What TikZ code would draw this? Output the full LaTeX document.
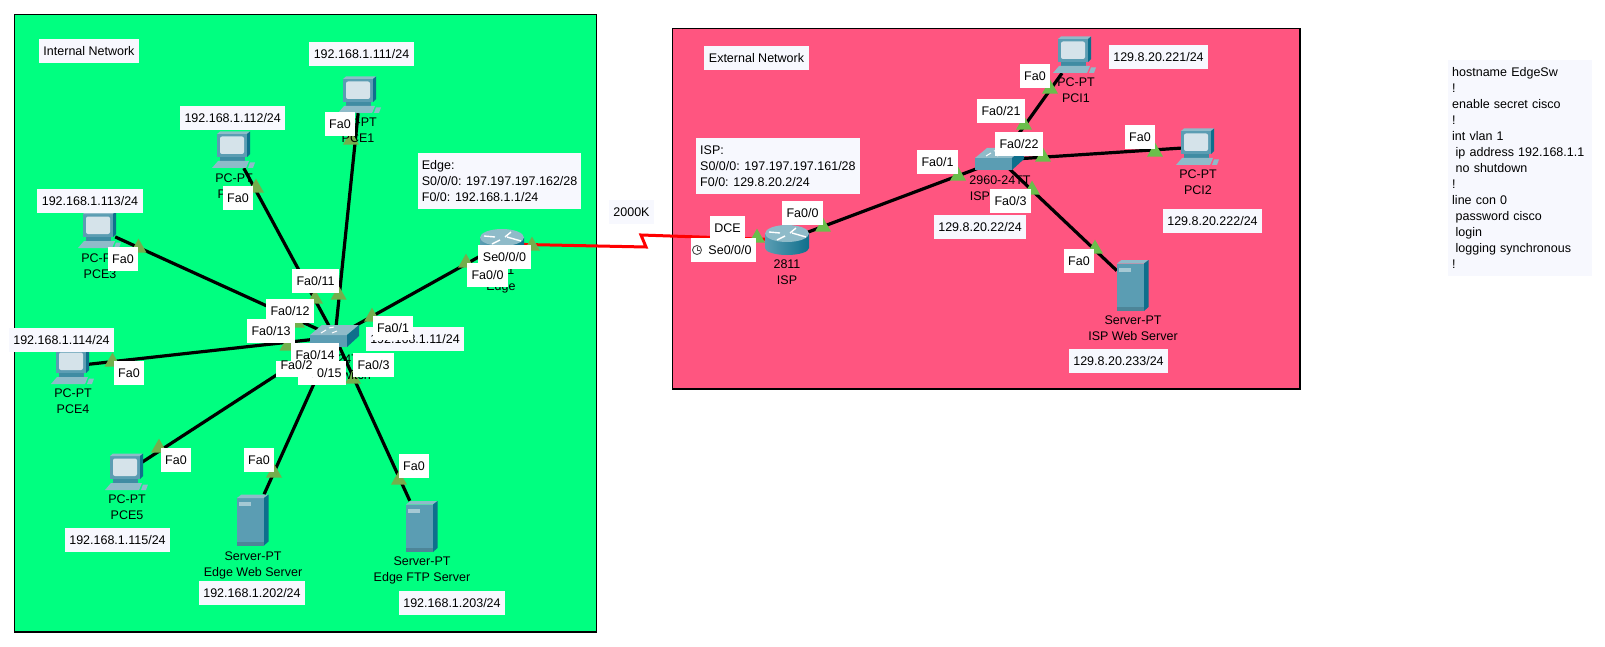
\documentclass[tikz,border=0pt]{standalone}
\usepackage{fontspec}
\setmainfont{Liberation Sans}
\usetikzlibrary{shapes.geometric}
\definecolor{netin}{HTML}{00FF80}
\definecolor{netout}{HTML}{FF5580}
\definecolor{boxfill}{HTML}{F7F8FE}
\definecolor{ledin}{HTML}{74AE4D}
\definecolor{ledout}{HTML}{6ABE4B}
\definecolor{iconfront}{HTML}{5B9DB3}
\definecolor{icontop}{HTML}{8FBBC9}
\definecolor{iconside}{HTML}{0F6F8C}
\definecolor{iconscreen}{HTML}{D5E3EA}
\newcommand{\lnstrut}{\rule[-3.5pt]{0pt}{16pt}}
\tikzset{
    netarea/.style   = {draw=black, line width=1.3pt},
    link/.style      = {draw=black, line width=3.2pt},
    serial/.style    = {draw=red, line width=3pt},
    txtbase/.style   = {font=\fontsize{12.5}{16}\selectfont, inner xsep=4.5pt, inner ysep=4pt},
    iplabel/.style   = {txtbase, fill=boxfill, text height=12.5pt, text depth=3.5pt},
    portlabel/.style = {txtbase, fill=white, text height=12.5pt, text depth=3.5pt},
    infobox/.style   = {txtbase, fill=boxfill, align=left, anchor=north west, inner xsep=4pt},
    devlabel/.style  = {txtbase, align=center, inner ysep=0pt},
    ledbase/.style   = {isosceles triangle, shape border rotate=90, isosceles triangle stretches,
                        minimum width=16pt, minimum height=14pt, inner sep=0pt},
    ledi/.style      = {ledbase, fill=ledin},
    lede/.style      = {ledbase, fill=ledout},
    pcnode/.style    = {inner sep=0pt, minimum width=30pt, minimum height=36pt},
    srvnode/.style   = {inner sep=0pt, minimum width=31pt, minimum height=51pt},
    rtrnode/.style   = {inner sep=0pt, minimum width=40pt, minimum height=24pt},
    swnode/.style    = {inner sep=0pt, minimum width=30pt, minimum height=14pt},
    pics/pcicon/.style = {code={
        \fill[iconfront]  (-17,-16) rectangle (13,7);
        \fill[icontop]    (-17,-16) -- (-14,-18.5) -- (16,-18.5) -- (13,-16) -- cycle;
        \fill[iconside]   (13,-16) -- (16,-18.5) -- (16,4) -- (13,7) -- cycle;
        \fill[iconscreen, rounded corners=2pt] (-14,-13.5) rectangle (10,4);
        \fill[iconside!80!white] (-14,7) rectangle (11,11);
        \fill[icontop]    (-22,18) -- (-16,11) -- (15,11) -- (12,18) -- cycle;
        \fill[icontop]    (14,18) -- (16,12.5) -- (21,12.5) -- (19,18) -- cycle;
    }},
    pics/srvicon/.style = {code={
        \fill[iconfront]  (-15.5,-22) rectangle (11.5,25.5);
        \fill[icontop]    (-15.5,-22) -- (-11,-25.5) -- (16,-25.5) -- (11.5,-22) -- cycle;
        \fill[iconside]   (11.5,-22) -- (16,-25.5) -- (16,21.5) -- (11.5,25.5) -- cycle;
        \fill[icontop!80!white] (-13.5,-18) rectangle (-1.5,-14);
        \fill[iconfront!85!black] (-15.5,21.5) rectangle (11.5,25.5);
    }},
    pics/rtricon/.style = {code={
        \shade[left color=iconfront, middle color=white!85!iconfront, right color=iconside]
            (-22,-6.5) -- (-22,8) arc[start angle=180, end angle=0, x radius=22, y radius=7]
            -- (22,-6.5) -- cycle;
        \fill[icontop] (0,-6.5) ellipse (22 and 8.5);
        \draw[white, line width=1.4pt] (-18,-8) -- (-7,-7);
        \draw[white, line width=1.4pt] (3,-7) -- (9,-12);
        \draw[white, line width=1.4pt] (5,-7) -- (19,-3);
        \draw[white, line width=1.4pt] (-10,0) -- (-2,-4);
    }},
    pics/swicon/.style = {code={
        \fill[iconfront]  (-25,-2) rectangle (12,10);
        \fill[icontop]    (-25,-2) -- (-13,-12) -- (24,-12) -- (12,-2) -- cycle;
        \fill[iconside]   (12,-2) -- (24,-12) -- (24,-1) -- (12,10) -- cycle;
        \draw[white, line width=1pt] (-14,-4) -- (-9,-7);
        \draw[white, line width=1pt] (-6,-9) -- (-1,-10);
        \draw[white, line width=1pt] (-3,-4) -- (2,-6);
    }},
}
\begin{document}
\begin{tikzpicture}[x=1pt, y=-1pt]
    \useasboundingbox (0,0) rectangle (1605,647);
    \fill[white] (0,0) rectangle (1605,647);
    \filldraw[netarea, fill=netin]  (14.5,14.5) rectangle (596.5,632);
    \filldraw[netarea, fill=netout] (672.5,28.5) rectangle (1300,389);

    \node[swnode]  (edgesw)  at (335,337)     {};
    \node[pcnode]  (pce1)    at (360,95)      {};
    \node[pcnode]  (pce2)    at (234,150)     {};
    \node[pcnode]  (pce3)    at (100,230)     {};
    \node[pcnode]  (pce4)    at (73,366)      {};
    \node[pcnode]  (pce5)    at (127,472)     {};
    \node[srvnode] (edgeweb) at (252.5,520)   {};
    \node[srvnode] (edgeftp) at (421.5,526.5) {};
    \node[rtrnode] (edgert)  at (502,244)     {};
    \node[rtrnode] (isprt)   at (787,240)     {};
    \node[swnode]  (ispsw)   at (1000,160)    {};
    \node[pcnode]  (pci1)    at (1075,55)     {};
    \node[pcnode]  (pci2)    at (1198,147)    {};
    \node[srvnode] (ispweb)  at (1132.5,285.5) {};
    \coordinate (zigb) at (646,247);
    \coordinate (zigt) at (641,235);

    \draw[link]   (edgesw) -- (pce1);
    \draw[link]   (edgesw) -- (pce2);
    \draw[link]   (edgesw) -- (pce3);
    \draw[link]   (edgesw) -- (pce4);
    \draw[link]   (edgesw) -- (pce5);
    \draw[link]   (edgesw) -- (edgeweb);
    \draw[link]   (edgesw) -- (edgeftp);
    \draw[link]   (edgesw) -- (edgert);
    \draw[link]   (isprt)  -- (ispsw);
    \draw[link]   (ispsw)  -- (pci1);
    \draw[link]   (ispsw)  -- (pci2);
    \draw[link]   (ispsw)  -- (ispweb);
    \draw[serial] (edgert) -- (zigb) -- (zigt) -- (isprt);

    \node[ledi] (ledpce1) at (351,140)   {};
    \node[ledi] (ledpce2) at (256,188)   {};
    \node[ledi] (ledpce3) at (138.5,248) {};
    \node[ledi] (ledpce4) at (112.5,362) {};
    \node[ledi] (ledpce5) at (159,448)   {};
    \node[ledi] (ledweb)  at (274,473)   {};
    \node[ledi] (ledftp)  at (399,480)   {};
    \node[ledi] (ledsw11) at (315,299)   {};
    \node[ledi] (ledswa)  at (338.6,295) {};
    \node[ledi] (ledsw12) at (297,323)   {};
    \node[ledi] (ledsw13) at (287.5,346) {};
    \node[ledi] (ledsw1)  at (372,317)   {};
    \node[ledi] (ledsw3)  at (353,379)   {};
    \node[ledi] (ledrtf)  at (466,263)   {};
    \node[ledi] (ledrts)  at (532,246)   {};
    \node[lede] (ledpci1) at (1050,89)   {};
    \node[lede] (ledpci2) at (1155,152)  {};
    \node[lede] (ledsrv)  at (1095,249)  {};
    \node[lede] (ledsw21) at (1024,125)  {};
    \node[lede] (ledsw22) at (1043,157)  {};
    \node[lede] (ledswi1) at (958,176)   {};
    \node[lede] (ledswi3) at (1032,190)  {};
    \node[lede] (ledisf)  at (823,227)   {};
    \node[lede] (ledise)  at (757,238)   {};

    \pic at (pce1)    {pcicon};
    \pic at (pce2)    {pcicon};
    \pic at (pce3)    {pcicon};
    \pic at (pce4)    {pcicon};
    \pic at (pce5)    {pcicon};
    \pic at (pci1)    {pcicon};
    \pic at (pci2)    {pcicon};
    \pic at (edgeweb) {srvicon};
    \pic at (edgeftp) {srvicon};
    \pic at (ispweb)  {srvicon};
    \pic at (edgert)  {rtricon};
    \pic at (isprt)   {rtricon};
    \pic at (edgesw)  {swicon};
    \pic at (ispsw)   {swicon};

    \node[devlabel] (namepce1) at (358,130.5)  {\lnstrut PC-PT\\\lnstrut PCE1};
    \node[devlabel] (namepce2) at (234,185.5)  {\lnstrut PC-PT\\\lnstrut PCE2};
    \node[devlabel] (namepce3) at (100,266)    {\lnstrut PC-PT\\\lnstrut PCE3};
    \node[devlabel] (namepce4) at (73,401)     {\lnstrut PC-PT\\\lnstrut PCE4};
    \node[devlabel] (namepce5) at (127,507)    {\lnstrut PC-PT\\\lnstrut PCE5};
    \node[devlabel] (nameweb)  at (253,563.5)  {\lnstrut Server-PT\\\lnstrut Edge Web Server};
    \node[devlabel] (nameftp)  at (422,569)    {\lnstrut Server-PT\\\lnstrut Edge FTP Server};
    \node[devlabel] (namesw)   at (336,366.5)  {\lnstrut 2960-24TT\\\lnstrut Edge Switch};
    \node[devlabel] (namert)   at (501,278)    {\lnstrut 2811\\\lnstrut Edge};
    \node[devlabel] (nameisp)  at (787,272)    {\lnstrut 2811\\\lnstrut ISP};
    \node[devlabel] (nameiss)  at (1000,188)   {\lnstrut 2960-24TT\\\lnstrut ISP Switch};
    \node[devlabel] (namepci1) at (1076,90)    {\lnstrut PC-PT\\\lnstrut PCI1};
    \node[devlabel] (namepci2) at (1198,182)   {\lnstrut PC-PT\\\lnstrut PCI2};
    \node[devlabel] (namesrv)  at (1133,328)   {\lnstrut Server-PT\\\lnstrut ISP Web Server};

    \node[iplabel] (lblint)  at (89,51)      {Internal Network};
    \node[iplabel] (lblext)  at (756.5,58)   {External Network};
    \node[iplabel] (ippce1)  at (361.5,54)   {192.168.1.111/24};
    \node[iplabel] (ippce2)  at (232.7,118)  {192.168.1.112/24};
    \node[iplabel] (ippce3)  at (90,201)     {192.168.1.113/24};
    \node[iplabel] (ippce4)  at (61.5,340)   {192.168.1.114/24};
    \node[iplabel] (ippce5)  at (117.5,540)  {192.168.1.115/24};
    \node[iplabel] (ipweb)   at (252,593)    {192.168.1.202/24};
    \node[iplabel] (ipftp)   at (452,603)    {192.168.1.203/24};
    \node[iplabel] (ipsw)    at (415,339)    {192.168.1.11/24};
    \node[iplabel] (ippci1)  at (1158.5,57)  {129.8.20.221/24};
    \node[iplabel] (ippci2)  at (1212.5,221) {129.8.20.222/24};
    \node[iplabel] (ipsrv)   at (1118.5,361) {129.8.20.233/24};
    \node[iplabel] (ipiss)   at (980,227)    {129.8.20.22/24};
    \node[iplabel] (lblrate) at (631.5,211.5) {2000K};

    \node[infobox] (infoedge) at (417.7,153) {\lnstrut Edge:\\\lnstrut S0/0/0: 197.197.197.162/28\\\lnstrut F0/0: 192.168.1.1/24};
    \node[infobox] (infoisp)  at (696,138)   {\lnstrut ISP:\\\lnstrut S0/0/0: 197.197.197.161/28\\\lnstrut F0/0: 129.8.20.2/24};
    \node[infobox, text width=136pt] (infocfg) at (1448,60) {\lnstrut hostname EdgeSw\\\lnstrut !\\\lnstrut enable secret cisco\\\lnstrut !\\\lnstrut int vlan 1\\\lnstrut\hspace*{3.5pt}ip address 192.168.1.1\\\lnstrut\hspace*{3.5pt}no shutdown\\\lnstrut !\\\lnstrut line con 0\\\lnstrut\hspace*{3.5pt}password cisco\\\lnstrut\hspace*{3.5pt}login\\\lnstrut\hspace*{3.5pt}logging synchronous\\\lnstrut !};

    \node[portlabel] (fapce1) at (340,124)     {Fa0};
    \node[portlabel] (fapce2) at (238,198)     {Fa0};
    \node[portlabel] (fapce3) at (123,259)     {Fa0};
    \node[portlabel] (fapce4) at (129,373)     {Fa0};
    \node[portlabel] (fapce5) at (176,460)     {Fa0};
    \node[portlabel] (faweb)  at (259,460)     {Fa0};
    \node[portlabel] (faftp)  at (414,466)     {Fa0};
    \node[portlabel] (fa11)   at (315.5,281)   {Fa0/11};
    \node[portlabel] (fa12)   at (290,310.5)   {Fa0/12};
    \node[portlabel] (fa13)   at (271,331)     {Fa0/13};
    \node[portlabel] (fa14)   at (315,355)     {Fa0/14};
    \node[portlabel] (fa15)   at (322,373)     {Fa0/15};
    \node[portlabel, anchor=base, text height=8.5pt, text depth=7.5pt, inner ysep=0pt] (fa2) at (296.5,369.5) {Fa0/2};
    \node[portlabel] (fa3)    at (373.5,365)   {Fa0/3};
    \node[portlabel] (fa1)    at (393,328)     {Fa0/1};
    \node[portlabel] (faert)  at (487.5,275)   {Fa0/0};
    \node[portlabel] (seert)  at (504.5,257)   {Se0/0/0};
    \node[portlabel] (fapci1) at (1035,76)     {Fa0};
    \node[portlabel] (fapci2) at (1140,137)    {Fa0};
    \node[portlabel] (fasrv)  at (1079,261)    {Fa0};
    \node[portlabel] (fa21)   at (1001,111)    {Fa0/21};
    \node[portlabel] (fa22)   at (1019,144)    {Fa0/22};
    \node[portlabel] (faisp1) at (937.5,162)   {Fa0/1};
    \node[portlabel] (faisp3) at (1010.5,201)  {Fa0/3};
    \node[portlabel] (fairt)  at (802.5,213)   {Fa0/0};
    \node[portlabel] (dce)    at (727.5,228)   {DCE};
    \node[portlabel] (seirt)  at (723.5,250)   {\hspace*{13pt}Se0/0/0};

    \draw[black!70, fill=white, line width=0.9pt] (697,250) circle (4.5);
    \draw[black!70, line width=0.9pt] (697,247) -- (697,250) -- (700,250);
\end{tikzpicture}
\end{document}
